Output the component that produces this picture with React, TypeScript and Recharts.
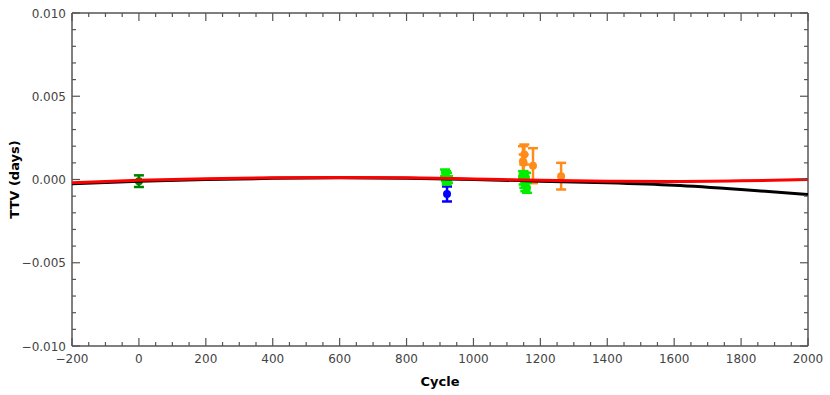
import React from "react";
import { ComposedChart, XAxis, YAxis, Scatter, Line, ErrorBar } from "recharts";

const darkGreenPts = [{ x: 0, y: -0.0001, err: 0.00035 }];
const bluePts = [{ x: 921, y: -0.00087, err: 0.00045 }];
const greenPts = [
  { x: 915, y: 0.0004, err: 0.0002 },
  { x: 918, y: 0.0002, err: 0.0003 },
  { x: 921, y: 0.0001, err: 0.0003 },
  { x: 924, y: 0.0, err: 0.0002 },
  { x: 920, y: -0.0001, err: 0.0002 },
  { x: 1148, y: 0.0003, err: 0.0002 },
  { x: 1150, y: 0.0, err: 0.0003 },
  { x: 1152, y: -0.0002, err: 0.0003 },
  { x: 1155, y: -0.0004, err: 0.0003 },
  { x: 1157, y: 0.0001, err: 0.0003 },
  { x: 1160, y: -0.0005, err: 0.0003 },
  { x: 1153, y: 0.0002, err: 0.0002 },
];
const orangePts = [
  { x: 1148, y: 0.0011, err: 0.0009 },
  { x: 1152, y: 0.0015, err: 0.0006 },
  { x: 1150, y: 0.001, err: 0.0005 },
  { x: 1178, y: 0.00083, err: 0.00105 },
  { x: 1262, y: 0.0002, err: 0.0008 },
];
const blackCurve = [
  { x: -200, y: -0.00025 },
  { x: 0, y: -0.0001 },
  { x: 200, y: 0.0 },
  { x: 400, y: 0.00007 },
  { x: 600, y: 0.0001 },
  { x: 800, y: 0.00007 },
  { x: 1000, y: 0.0 },
  { x: 1200, y: -0.0001 },
  { x: 1400, y: -0.0002 },
  { x: 1600, y: -0.00035 },
  { x: 1800, y: -0.0006 },
  { x: 2000, y: -0.0009 },
];
const redCurve = [
  { x: -200, y: -0.0002 },
  { x: 0, y: -0.00005 },
  { x: 200, y: 0.00005 },
  { x: 400, y: 0.0001 },
  { x: 600, y: 0.00012 },
  { x: 800, y: 0.0001 },
  { x: 1000, y: 0.00003 },
  { x: 1200, y: -0.00005 },
  { x: 1400, y: -0.0001 },
  { x: 1600, y: -0.00012 },
  { x: 1800, y: -0.00008 },
  { x: 2000, y: 0.0 },
];

const xTicks: number[] = [];
for (let v = -200; v <= 2000; v += 50) xTicks.push(v);
const yTicks: number[] = [];
for (let i = -10; i <= 10; i++) yTicks.push(i / 1000);

const FONT = "DejaVu Sans";
const TXT = "#444";
const AX = "#555";

const isMajorX = (v: number) => v % 200 === 0;
const isMajorY = (v: number) => Math.abs(Math.round(v * 1000)) % 5 === 0;
const fmtY = (v: number) => {
  const s = Math.abs(v).toFixed(3);
  return v < -1e-9 ? "\u2212" + s : s;
};
const fmtX = (v: number) => (v < 0 ? "\u2212" + Math.abs(v) : String(v));

const BottomTick = (p: any) => {
  const v = p.payload.value;
  const major = isMajorX(v);
  return (
    <g>
      <line x1={p.x} x2={p.x} y1={p.y} y2={p.y - (major ? 8 : 4)} stroke={AX} strokeWidth={1.2} />
      {major && (
        <text x={p.x} y={p.y + 17} textAnchor="middle" fontFamily={FONT} fontSize={12} fill={TXT}>
          {fmtX(v)}
        </text>
      )}
    </g>
  );
};
const TopTick = (p: any) => {
  const v = p.payload.value;
  const major = isMajorX(v);
  return <line x1={p.x} x2={p.x} y1={p.y} y2={p.y + (major ? 8 : 4)} stroke={AX} strokeWidth={1.2} />;
};
const LeftTick = (p: any) => {
  const v = p.payload.value;
  const major = isMajorY(v);
  return (
    <g>
      <line x1={p.x} x2={p.x + (major ? 8 : 4)} y1={p.y} y2={p.y} stroke={AX} strokeWidth={1.2} />
      {major && (
        <text x={p.x - 6} y={p.y + 4.5} textAnchor="end" fontFamily={FONT} fontSize={12} fill={TXT}>
          {fmtY(v)}
        </text>
      )}
    </g>
  );
};
const RightTick = (p: any) => {
  const v = p.payload.value;
  const major = isMajorY(v);
  return <line x1={p.x} x2={p.x - (major ? 8 : 4)} y1={p.y} y2={p.y} stroke={AX} strokeWidth={1.2} />;
};

const dot = (color: string) => (p: any) => <circle cx={p.cx} cy={p.cy} r={4} fill={color} />;

export default function App() {
  return (
    <div style={{ position: "absolute", left: 0, top: 0, width: 830, height: 395, background: "#fff" }}>
      <ComposedChart width={830} height={395} margin={{ top: 12, right: 21, bottom: 0, left: 0 }}>
        <XAxis
          xAxisId="b"
          type="number"
          dataKey="x"
          domain={[-200, 2000]}
          ticks={xTicks}
          interval={0}
          tickSize={0}
          tickMargin={0}
          tickLine={false}
          tick={BottomTick}
          height={49}
          stroke={AX}
          strokeWidth={1.5}
          allowDataOverflow
          label={{ value: "Cycle", position: "insideBottom", offset: 9, fontFamily: FONT, fontSize: 13, fontWeight: "bold", fill: "#000" }}
        />
        <XAxis
          xAxisId="t"
          orientation="top"
          type="number"
          dataKey="x"
          domain={[-200, 2000]}
          ticks={xTicks}
          interval={0}
          tickSize={0}
          tickMargin={0}
          tickLine={false}
          tick={TopTick}
          height={1}
          stroke={AX}
          strokeWidth={1.5}
          allowDataOverflow
        />
        <YAxis
          yAxisId="l"
          type="number"
          domain={[-0.01, 0.01]}
          ticks={yTicks}
          interval={0}
          tickSize={0}
          tickMargin={0}
          tickLine={false}
          tick={LeftTick}
          width={72}
          stroke={AX}
          strokeWidth={1.5}
          allowDataOverflow
          label={{
            content: () => (
              <text x={14} y={179.5} transform="rotate(-90,14,179.5)" textAnchor="middle" dominantBaseline="central" fontFamily={FONT} fontSize={13} fontWeight="bold" fill="#000">
                TTV (days)
              </text>
            ),
          }}
        />
        <YAxis
          yAxisId="r"
          orientation="right"
          type="number"
          domain={[-0.01, 0.01]}
          ticks={yTicks}
          interval={0}
          tickSize={0}
          tickMargin={0}
          tickLine={false}
          tick={RightTick}
          width={1}
          stroke={AX}
          strokeWidth={1.5}
          allowDataOverflow
        />
        <Scatter xAxisId="b" yAxisId="l" data={darkGreenPts} dataKey="y" fill="#008000" shape={dot("#008000")} isAnimationActive={false}>
          <ErrorBar dataKey="err" direction="y" width={5} strokeWidth={2.5} stroke="#008000" />
        </Scatter>
        <Scatter xAxisId="b" yAxisId="l" data={bluePts} dataKey="y" fill="#0000ff" shape={dot("#0000ff")} isAnimationActive={false}>
          <ErrorBar dataKey="err" direction="y" width={5} strokeWidth={2.5} stroke="#0000ff" />
        </Scatter>
        <Scatter xAxisId="b" yAxisId="l" data={orangePts} dataKey="y" fill="#ff8c1a" shape={dot("#ff8c1a")} isAnimationActive={false}>
          <ErrorBar dataKey="err" direction="y" width={5} strokeWidth={2.5} stroke="#ff8c1a" />
        </Scatter>
        <Scatter xAxisId="b" yAxisId="l" data={greenPts} dataKey="y" fill="#00ee00" shape={dot("#00ee00")} isAnimationActive={false}>
          <ErrorBar dataKey="err" direction="y" width={5} strokeWidth={2.5} stroke="#00ee00" />
        </Scatter>
        <Line xAxisId="b" yAxisId="l" data={blackCurve} dataKey="y" type="monotone" stroke="#000" strokeWidth={3} dot={false} isAnimationActive={false} zIndex={900} />
        <Line xAxisId="b" yAxisId="l" data={redCurve} dataKey="y" type="monotone" stroke="#ff0000" strokeWidth={3} dot={false} isAnimationActive={false} zIndex={901} />
      </ComposedChart>
    </div>
  );
}
